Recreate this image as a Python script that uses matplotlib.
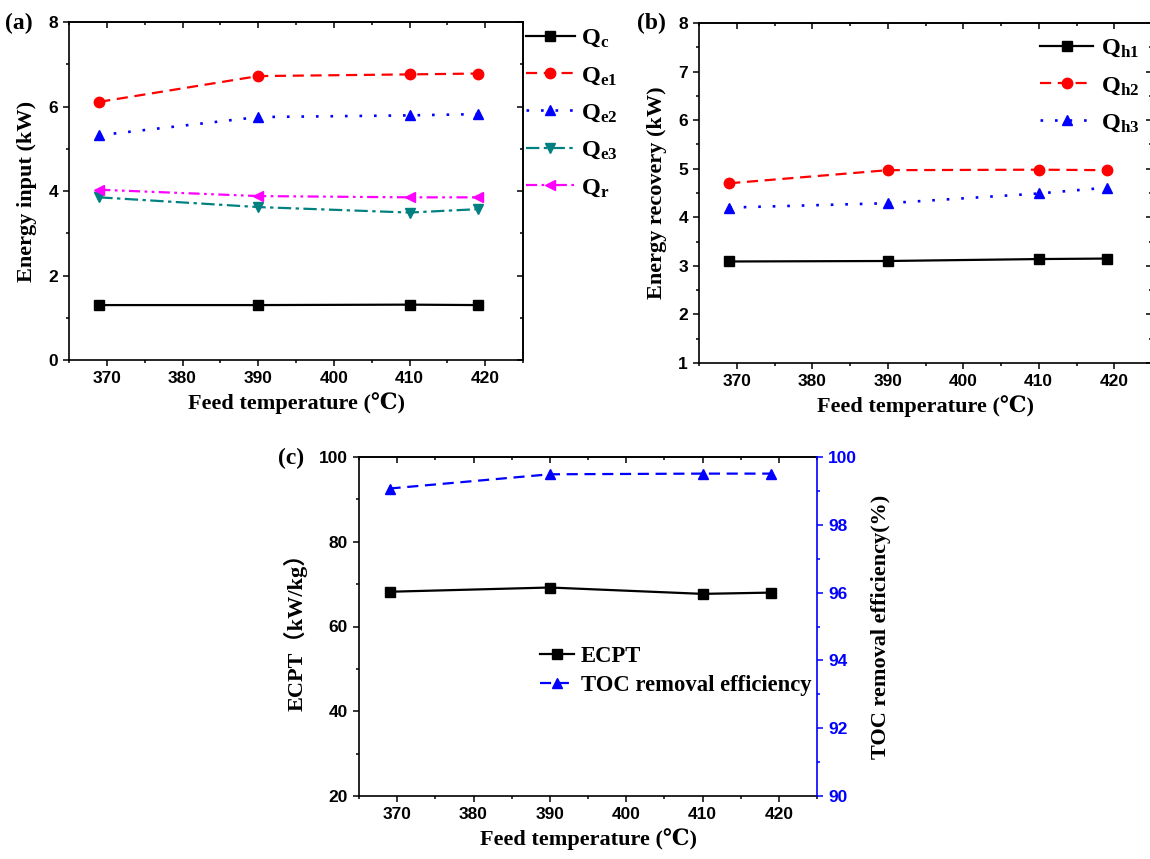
import matplotlib
matplotlib.use('Agg')
import matplotlib.pyplot as plt
from matplotlib.ticker import MultipleLocator

# ---------------- data ----------------
temps = [369, 390, 410, 419]
Qc = [1.30, 1.30, 1.31, 1.30]
Qe1 = [6.11, 6.72, 6.76, 6.78]
Qe2 = [5.32, 5.75, 5.79, 5.82]
Qe3 = [3.85, 3.62, 3.49, 3.57]
Qr = [4.03, 3.88, 3.85, 3.85]
Qh1 = [3.09, 3.10, 3.14, 3.15]
Qh2 = [4.70, 4.97, 4.98, 4.97]
Qh3 = [4.20, 4.29, 4.49, 4.61]
ECPT = [68.2, 69.2, 67.7, 68.0]
TOC = [99.07, 99.49, 99.51, 99.51]
xticks = [370, 380, 390, 400, 410, 420]

plt.rcParams['mathtext.fontset'] = 'custom'
plt.rcParams['mathtext.rm'] = 'Liberation Serif:bold'
plt.rcParams['mathtext.it'] = 'Liberation Serif:bold'
plt.rcParams['mathtext.bf'] = 'Liberation Serif:bold'

W, H = 1150, 859
fig = plt.figure(figsize=(W / 100, H / 100), dpi=100)

def rect(l, r, t, b):
    return [l / W, 1 - b / H, (r - l) / W, (b - t) / H]

def pt(x, y):
    return (x / W, 1 - y / H)

SERIF = ['Liberation Serif', 'DejaVu Serif']
SERIF_CJK = ['Liberation Serif', 'Noto Sans CJK SC']
TICKSIZE = 12.5
LW = 1.6

def style(ax, ymaj, ymin, right_sec=True):
    ax.set_xlim(365, 425)
    ax.set_xticks(xticks)
    ax.xaxis.set_minor_locator(MultipleLocator(5))
    ax.yaxis.set_major_locator(MultipleLocator(ymaj))
    ax.yaxis.set_minor_locator(MultipleLocator(ymin))
    ax.tick_params(which='major', direction='out', length=4, width=1.1, pad=4)
    ax.tick_params(which='minor', direction='out', length=2.5, width=1.1)
    for lab_ in ax.get_xticklabels() + ax.get_yticklabels():
        lab_.set_fontfamily('Liberation Sans')
        lab_.set_fontweight('bold')
        lab_.set_fontsize(TICKSIZE)
    for s in ax.spines.values():
        s.set_linewidth(1.2)
    top = ax.secondary_xaxis('top')
    top.set_xticks(xticks)
    top.xaxis.set_minor_locator(MultipleLocator(5))
    top.tick_params(which='major', direction='in', length=4, width=1.1, labeltop=False)
    top.tick_params(which='minor', direction='in', length=2.5, width=1.1)
    top.spines['top'].set_linewidth(1.2)
    if right_sec:
        rt = ax.secondary_yaxis('right')
        rt.yaxis.set_major_locator(MultipleLocator(ymaj))
        rt.yaxis.set_minor_locator(MultipleLocator(ymin))
        rt.tick_params(which='major', direction='in', length=4, width=1.1, labelright=False)
        rt.tick_params(which='minor', direction='in', length=2.5, width=1.1)
        rt.spines['right'].set_linewidth(1.2)

def lab(size=16, family=SERIF):
    return dict(fontsize=size, fontweight='bold', fontfamily=family)

LEGPROP = dict(family='Liberation Serif', weight='bold', size=17.5)

# ---------------- panel (a) ----------------
axa = fig.add_axes(rect(69, 523, 22, 360))
axa.plot(temps, Qc, color='black', lw=LW, marker='s', ms=6.5, label=r'$\mathrm{Q_{c}}$')
axa.plot(temps, Qe1, color='red', lw=LW, marker='o', ms=7.5, dashes=[5, 3], label=r'$\mathrm{Q_{e1}}$')
axa.plot(temps, Qe2, color='blue', lw=LW + 0.3, marker='^', ms=7.5, dashes=[1, 4.5], label=r'$\mathrm{Q_{e2}}$')
axa.plot(temps, Qe3, color='#008080', lw=LW, marker='v', ms=7.5, dashes=[6, 2, 1.5, 2], label=r'$\mathrm{Q_{e3}}$')
axa.plot(temps, Qr, color='magenta', lw=LW, marker='<', ms=7.5, dashes=[5, 2, 1.2, 2, 1.2, 2], label=r'$\mathrm{Q_{r}}$')
axa.set_ylim(0, 8)
style(axa, 2, 1)
axa.set_xlabel('Feed temperature (℃)', labelpad=4, **lab())
axa.set_ylabel('Energy input (kW)', labelpad=8, **lab())
axa.legend(loc='upper left', bbox_to_anchor=pt(526, 27), bbox_transform=fig.transFigure,
           frameon=False, prop=LEGPROP,
           handlelength=2.0, handletextpad=0.25, labelspacing=0.62, borderpad=0, borderaxespad=0)
fig.text(*pt(5, 23), '(a)', va='center', ha='left', **lab(17))

# ---------------- panel (b) ----------------
axb = fig.add_axes(rect(699, 1152, 23, 363))
axb.plot(temps, Qh1, color='black', lw=LW, marker='s', ms=6.5, label=r'$\mathrm{Q_{h1}}$')
axb.plot(temps, Qh2, color='red', lw=LW, marker='o', ms=7.5, dashes=[5, 3], label=r'$\mathrm{Q_{h2}}$')
axb.plot(temps, Qh3, color='blue', lw=LW + 0.3, marker='^', ms=7.5, dashes=[1, 4.5], label=r'$\mathrm{Q_{h3}}$')
axb.set_ylim(1, 8)
style(axb, 1, 0.5)
axb.set_xlabel('Feed temperature (℃)', labelpad=4, **lab())
axb.set_ylabel('Energy recovery (kW)', labelpad=8, **lab())
axb.legend(loc='upper left', bbox_to_anchor=pt(1040, 37), bbox_transform=fig.transFigure,
           frameon=False, prop=LEGPROP,
           handlelength=2.2, handletextpad=0.3, labelspacing=0.62, borderpad=0, borderaxespad=0)
fig.text(*pt(637, 23), '(b)', va='center', ha='left', **lab(17))

# ---------------- panel (c) ----------------
axc = fig.add_axes(rect(359, 817, 457, 796))
l1, = axc.plot(temps, ECPT, color='black', lw=LW, marker='s', ms=6.5, label='ECPT')
axc.set_ylim(20, 100)
style(axc, 20, 10, right_sec=False)
axc.spines['right'].set_visible(False)
axr = axc.twinx()
l2, = axr.plot(temps, TOC, color='blue', lw=LW, marker='^', ms=7.5, dashes=[5, 3], label='TOC removal efficiency')
axr.set_ylim(90, 100)
axr.yaxis.set_major_locator(MultipleLocator(2))
axr.yaxis.set_minor_locator(MultipleLocator(1))
axr.tick_params(which='major', direction='out', length=4, width=1.1, colors='blue', pad=4)
axr.tick_params(which='minor', direction='out', length=2.5, width=1.1, colors='blue')
for s in ['left', 'top', 'bottom']:
    axr.spines[s].set_visible(False)
axr.spines['right'].set_color('blue')
axr.spines['right'].set_linewidth(1.2)
for t in axr.get_yticklabels():
    t.set_fontfamily('Liberation Sans')
    t.set_fontweight('bold')
    t.set_fontsize(TICKSIZE)
    t.set_color('blue')
axc.set_xlabel('Feed temperature (℃)', labelpad=4, **lab())
axc.set_ylabel('ECPT（kW/kg）', labelpad=8, **lab(16, SERIF_CJK))
axr.set_ylabel('TOC removal efficiency(%)', labelpad=10, color='black', **lab())
axr.legend(handles=[l1, l2], loc='upper left', bbox_to_anchor=pt(540, 646), bbox_transform=fig.transFigure,
           frameon=False, prop=dict(family='Liberation Serif', weight='bold', size=16.3),
           handlelength=1.5, handletextpad=0.3, labelspacing=0.35, borderpad=0, borderaxespad=0)
fig.text(*pt(278, 458), '(c)', va='center', ha='left', **lab(17))

fig.savefig('out.png', dpi=100)
